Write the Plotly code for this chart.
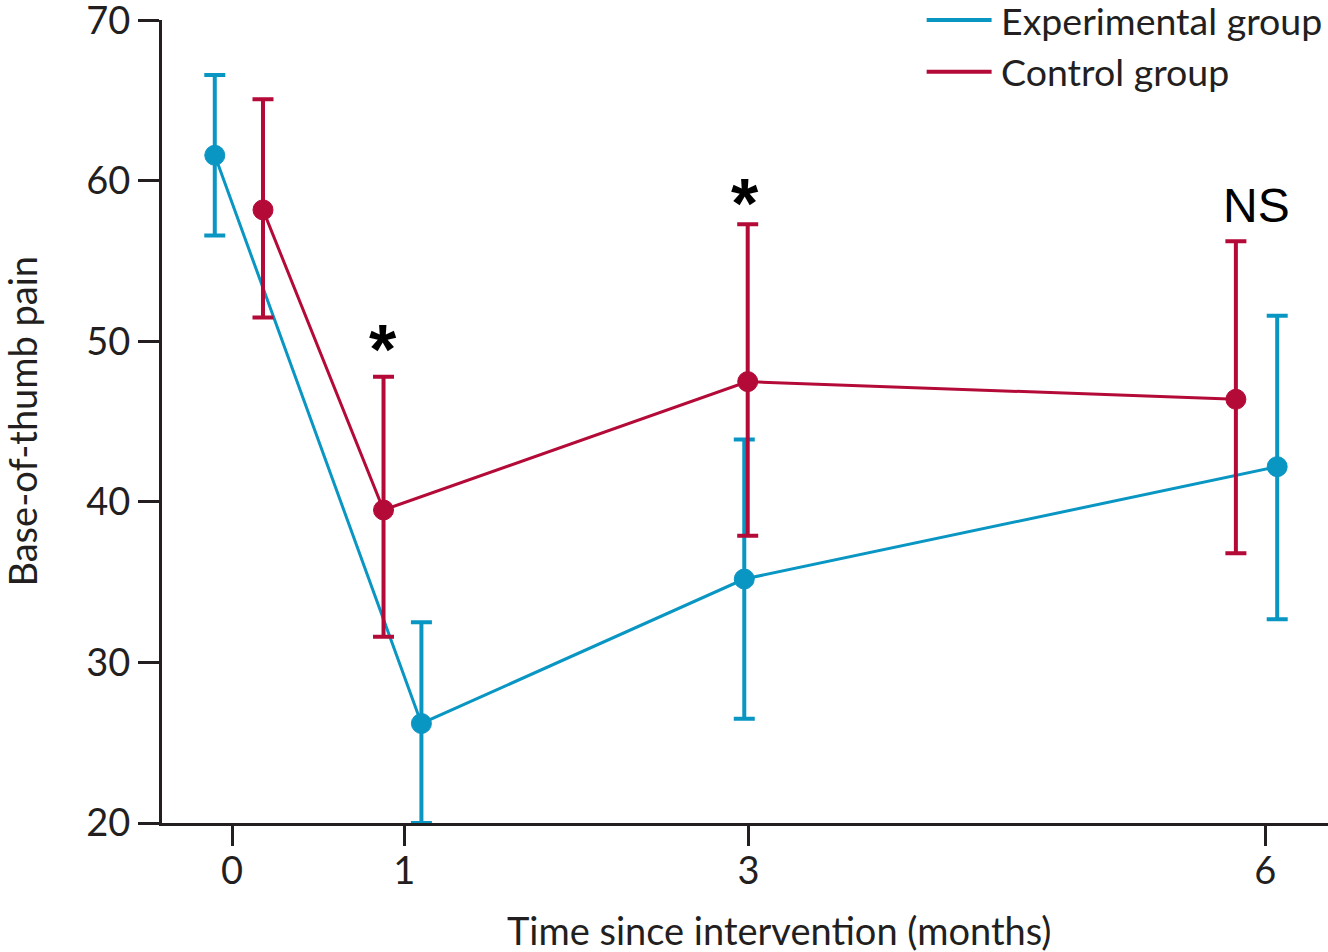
import plotly.graph_objects as go

# ---- data ----
tick_months = [0, 1, 3, 6]
tick_labels = ["0", "1", "3", "6"]

exp_x = [-0.10, 1.10, 2.975, 6.07]
exp_mean = [61.6, 26.2, 35.2, 42.2]
exp_err_plus = [5.0, 6.3, 8.7, 9.4]
exp_err_minus = [5.0, 6.2, 8.7, 9.5]

ctrl_x = [0.18, 0.88, 2.995, 5.83]
ctrl_mean = [58.2, 39.5, 47.5, 46.4]
ctrl_err_plus = [6.9, 8.3, 9.8, 9.85]
ctrl_err_minus = [6.7, 7.9, 9.6, 9.6]

sig_x = [0.875, 2.98, 5.947]
sig_y = [49.45, 58.55, 58.5]
sig_text = ["*", "*", "NS"]

y_ticks = [20, 30, 40, 50, 60, 70]

BLUE = "#0a96c3"
RED = "#b40a38"
INK = "#231f20"
FONT = "Lato"
FS = 38

fig = go.Figure()

for name, xs, ys, ep, em, col in [
    ("Experimental group", exp_x, exp_mean, exp_err_plus, exp_err_minus, BLUE),
    ("Control group", ctrl_x, ctrl_mean, ctrl_err_plus, ctrl_err_minus, RED),
]:
    fig.add_trace(go.Scatter(
        x=xs, y=ys, name=name, mode="lines+markers",
        line=dict(color=col, width=3),
        marker=dict(color=col, size=20, line=dict(color=col, width=1)),
        error_y=dict(type="data", symmetric=False, array=ep, arrayminus=em,
                     color=col, thickness=4, width=10.5),
        showlegend=False, cliponaxis=False,
    ))

# significance labels
for x, y, t in zip(sig_x, sig_y, sig_text):
    fig.add_annotation(
        x=x, y=y, text=t, showarrow=False, xanchor="center", yanchor="middle",
        font=dict(family="Liberation Sans", size=48 if t == "NS" else 70,
                  color="black", weight="bold" if t == "*" else "normal"),
    )

# manual legend (line swatches + labels)
legend_items = [("Experimental group", BLUE, 1.0), ("Control group", RED, 0.9356)]
for label, col, yp in legend_items:
    fig.add_shape(type="line", xref="paper", yref="paper",
                  x0=0.6558, x1=0.7115, y0=yp, y1=yp,
                  line=dict(color=col, width=4))
    fig.add_annotation(xref="paper", yref="paper", x=0.7175, y=yp, text=label,
                       showarrow=False, xanchor="left", yanchor="middle",
                       font=dict(family=FONT, size=37.5, color=INK))

# axis titles
fig.add_annotation(xref="paper", yref="paper", x=0.530, y=-0.1333,
                   text="Time since intervention (months)", showarrow=False,
                   xanchor="center", yanchor="middle",
                   font=dict(family=FONT, size=FS, color=INK))
fig.add_annotation(xref="paper", yref="paper", x=-0.1209, y=0.5,
                   text="Base-of-thumb pain", showarrow=False, textangle=-90,
                   xanchor="center", yanchor="middle",
                   font=dict(family=FONT, size=FS, color=INK))

fig.update_xaxes(
    range=[-0.4065, 6.365], tickvals=tick_months, ticktext=tick_labels,
    ticks="outside", ticklen=20, tickwidth=3, tickcolor=INK,
    showline=True, linewidth=3, linecolor=INK, showgrid=False, zeroline=False,
    tickfont=dict(family=FONT, size=FS, color=INK), ticklabelstandoff=-8,
    ticklabeloverflow="allow", automargin=False,
)
fig.update_yaxes(
    range=[20, 70.03], tickvals=y_ticks,
    ticks="outside", ticklen=21, tickwidth=3, tickcolor=INK,
    showline=True, linewidth=3, linecolor=INK, showgrid=False, zeroline=False,
    tickfont=dict(family=FONT, size=FS, color=INK), ticklabelstandoff=0,
    ticklabeloverflow="allow", automargin=False,
)

fig.update_layout(
    width=1328, height=952,
    margin=dict(l=162, r=0, t=20, b=129, autoexpand=False),
    paper_bgcolor="white", plot_bgcolor="white",
)

fig.write_html("out.html")
